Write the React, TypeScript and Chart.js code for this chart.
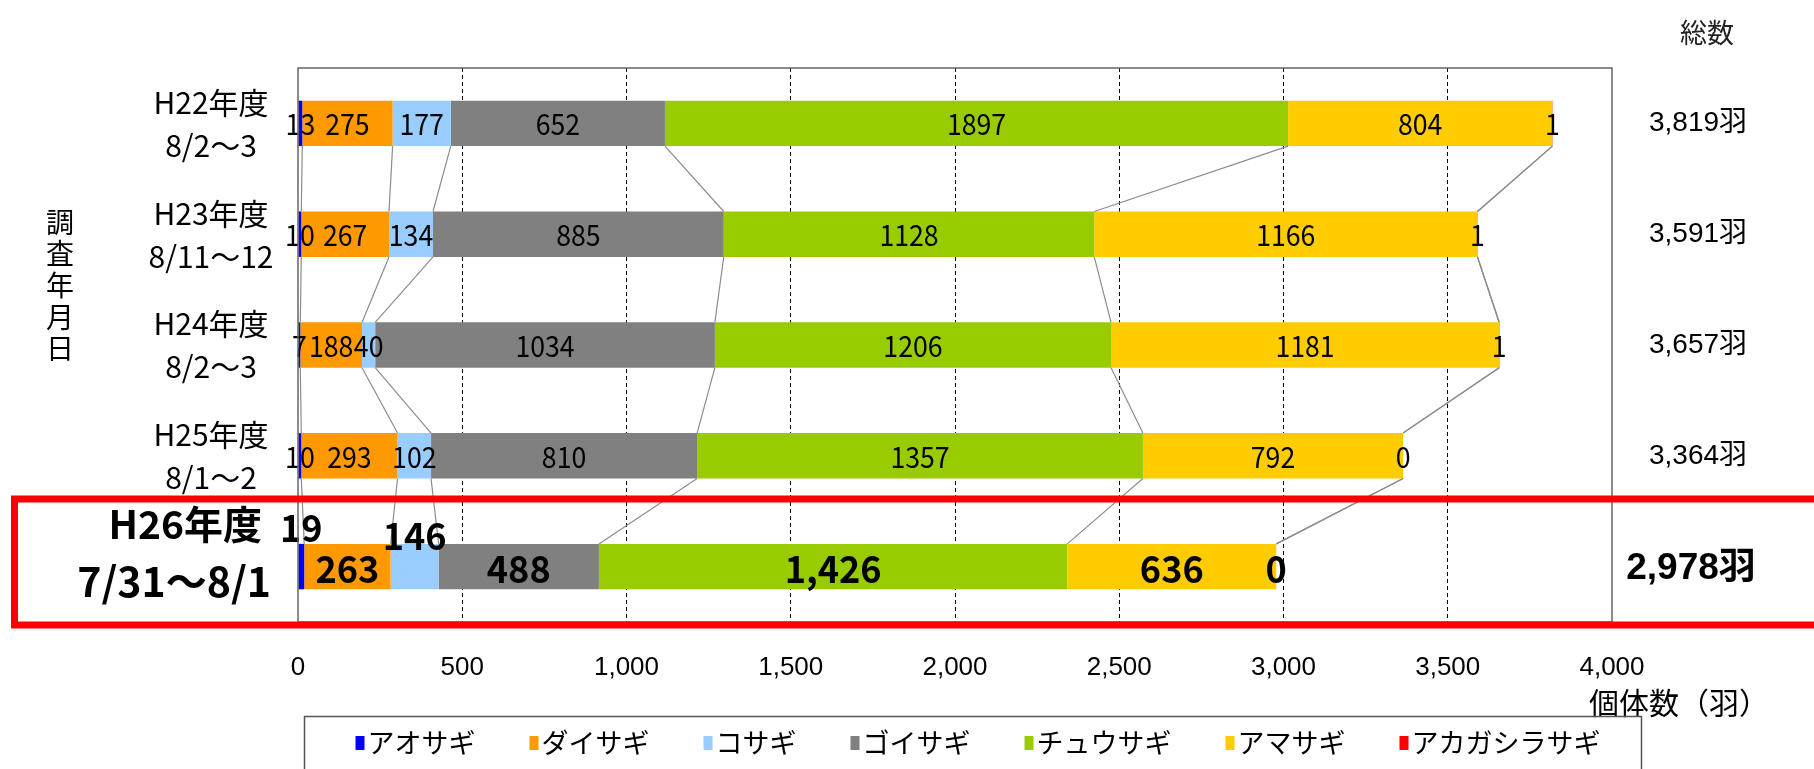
import React, { useEffect, useRef } from 'react';
import { Chart, registerables } from 'chart.js';

Chart.register(...registerables);

// ---- data ----
const categories = ['H22年度', 'H23年度', 'H24年度', 'H25年度', 'H26年度'];
const dateLabels = ['8/2～3', '8/11～12', '8/2～3', '8/1～2', '7/31～8/1'];
const seriesNames = ['アオサギ', 'ダイサギ', 'コサギ', 'ゴイサギ', 'チュウサギ', 'アマサギ', 'アカガシラサギ'];
const seriesColors = ['#0000FF', '#FF9900', '#99CCFF', '#808080', '#99CC00', '#FFCC00', '#FF0000'];
const aosagi = [13, 10, 7, 10, 19];
const daisagi = [275, 267, 188, 293, 263];
const kosagi = [177, 134, 40, 102, 146];
const goisagi = [652, 885, 1034, 810, 488];
const chuusagi = [1897, 1128, 1206, 1357, 1426];
const amasagi = [804, 1166, 1181, 792, 636];
const akagashirasagi = [1, 1, 1, 0, 0];
const seriesValues = [aosagi, daisagi, kosagi, goisagi, chuusagi, amasagi, akagashirasagi];
const totals = ['3,819羽', '3,591羽', '3,657羽', '3,364羽', '2,978羽'];
const xTickLabels = ['0', '500', '1,000', '1,500', '2,000', '2,500', '3,000', '3,500', '4,000'];

const W = 1814;
const H = 769;
const CJK = "'Noto Sans CJK JP', sans-serif";
const SANS = "'Liberation Sans', 'Noto Sans CJK JP', sans-serif";

function condensedText(ctx: CanvasRenderingContext2D, text: string, x: number, y: number, sx: number) {
  ctx.save();
  ctx.translate(x, y);
  ctx.scale(sx, 1);
  ctx.fillText(text, 0, 0);
  ctx.restore();
}

const overlay = {
  id: 'overlay',
  afterDatasetsDraw(chart: any) {
    const ctx = chart.ctx as CanvasRenderingContext2D;
    const metas = seriesNames.map((_, i) => chart.getDatasetMeta(i));
    // series connector lines
    ctx.save();
    ctx.strokeStyle = '#8c8c8c';
    ctx.lineWidth = 1.2;
    for (let s = 0; s < metas.length; s++) {
      const els = metas[s].data;
      for (let c = 0; c < els.length - 1; c++) {
        const a = els[c];
        const b = els[c + 1];
        ctx.beginPath();
        ctx.moveTo(a.x, a.y + a.height / 2);
        ctx.lineTo(b.x, b.y - b.height / 2);
        ctx.stroke();
      }
    }
    ctx.restore();

    // data labels
    ctx.save();
    ctx.fillStyle = '#000';
    ctx.textAlign = 'center';
    ctx.textBaseline = 'middle';
    for (let s = 0; s < metas.length; s++) {
      const els = metas[s].data;
      for (let c = 0; c < els.length; c++) {
        const el = els[c];
        const v = seriesValues[s][c];
        const cx = (el.x + el.base) / 2;
        let cy = el.y;
        if (c === categories.length - 1) {
          ctx.font = `bold 38px ${CJK}`;
          if (s === 0) cy = el.y - 41;
          if (s === 2) cy = el.y - 33;
          condensedText(ctx, v.toLocaleString('en-US'), cx, cy + 2, 0.95);
        } else {
          ctx.font = `29px ${CJK}`;
          condensedText(ctx, String(v), cx, cy + 1, 0.92);
        }
      }
    }
    ctx.restore();
  },
  afterDraw(chart: any) {
    const ctx = chart.ctx as CanvasRenderingContext2D;
    const area = chart.chartArea;
    const yScale = chart.scales.y;

    // plot border
    ctx.save();
    ctx.strokeStyle = '#666';
    ctx.lineWidth = 1.5;
    ctx.strokeRect(area.left, area.top, area.right - area.left, area.bottom - area.top);
    ctx.restore();

    ctx.save();
    ctx.fillStyle = '#000';
    ctx.textBaseline = 'middle';

    // category labels
    for (let i = 0; i < categories.length; i++) {
      const y = yScale.getPixelForTick(i);
      if (i < categories.length - 1) {
        ctx.font = `30px ${CJK}`;
        ctx.textAlign = 'center';
        ctx.fillText(categories[i], 211, y - 21);
        ctx.fillText(dateLabels[i], 211, y + 22);
      } else {
        ctx.font = `bold 39px ${CJK}`;
        ctx.textAlign = 'right';
        ctx.fillText(categories[i], 262, y - 42);
        ctx.font = `bold 41px ${CJK}`;
        ctx.fillText(dateLabels[i], 271, y + 15);
      }
    }

    // totals
    for (let i = 0; i < totals.length; i++) {
      const y = yScale.getPixelForTick(i);
      ctx.textAlign = 'center';
      if (i < totals.length - 1) {
        ctx.font = `28px ${SANS}`;
        ctx.fillText(totals[i], 1698, y);
      } else {
        ctx.font = `bold 37px ${SANS}`;
        ctx.fillText(totals[i], 1691, y + 2);
      }
    }

    // header
    ctx.font = `27px ${CJK}`;
    ctx.fillStyle = '#222';
    ctx.textAlign = 'center';
    ctx.fillText('総数', 1707, 33);

    // x-axis title
    ctx.fillStyle = '#000';
    ctx.textAlign = 'left';
    ctx.font = `30px ${CJK}`;
    ctx.fillText('個体数（羽）', 1589, 703);

    // y-axis title (vertical)
    ctx.textAlign = 'center';
    ctx.font = `28px ${CJK}`;
    const yTitle = '調査年月日';
    for (let k = 0; k < yTitle.length; k++) {
      ctx.fillText(yTitle[k], 60, 222 + k * 31.7);
    }
    ctx.restore();

    // red highlight box
    ctx.save();
    ctx.strokeStyle = '#FF0000';
    ctx.lineWidth = 7;
    ctx.strokeRect(14.5, 499, 1840, 126);
    ctx.restore();

    // legend
    ctx.save();
    ctx.strokeStyle = '#555';
    ctx.lineWidth = 1.5;
    ctx.strokeRect(304.5, 716.5, 1337, 90);
    ctx.font = `27px ${CJK}`;
    ctx.textBaseline = 'middle';
    ctx.textAlign = 'left';
    const gap = 54;
    const widths = seriesNames.map((n) => 12 + ctx.measureText(n).width);
    const total = widths.reduce((a, b) => a + b, 0) + gap * (widths.length - 1);
    let x = 978 - total / 2;
    const ly = 743;
    for (let i = 0; i < seriesNames.length; i++) {
      ctx.fillStyle = seriesColors[i];
      ctx.fillRect(x, ly - 7, 9, 14);
      ctx.fillStyle = '#000';
      ctx.fillText(seriesNames[i], x + 12, ly);
      x += widths[i] + gap;
    }
    ctx.restore();
  },
};

export default function App() {
  const ref = useRef<HTMLCanvasElement | null>(null);
  useEffect(() => {
    if (!ref.current) return;
    const chart = new Chart(ref.current, {
      type: 'bar',
      data: {
        labels: categories,
        datasets: seriesNames.map((name, i) => ({
          label: name,
          data: seriesValues[i],
          backgroundColor: seriesColors[i],
          borderWidth: 0,
          barPercentage: 0.41,
          categoryPercentage: 1,
        })),
      },
      options: {
        animation: false,
        responsive: false,
        indexAxis: 'y',
        layout: { padding: { left: 0, right: W - 1612, top: 68, bottom: 0 } },
        plugins: { legend: { display: false }, tooltip: { enabled: false } },
        scales: {
          x: {
            stacked: true,
            min: 0,
            max: 4000,
            afterFit: (s: any) => {
              s.height = H - 622;
            },
            ticks: {
              stepSize: 500,
              autoSkip: false,
              maxRotation: 0,
              padding: 30,
              color: '#000',
              font: { family: SANS, size: 26 },
              callback: (_v: any, i: number) => xTickLabels[i],
            },
            grid: {
              color: (c: any) =>
                c.tick && (c.tick.value === 0 || c.tick.value === 4000) ? 'rgba(0,0,0,0)' : '#000',
              lineWidth: 1,
              drawTicks: false,
            },
            border: { display: false, dash: [4, 3] },
          },
          y: {
            stacked: true,
            afterFit: (s: any) => {
              s.width = 298;
            },
            ticks: { display: false },
            grid: { display: false },
            border: { display: false },
          },
        },
      },
      plugins: [overlay],
    } as any);
    return () => chart.destroy();
  }, []);
  return (
    <div style={{ position: 'absolute', left: 0, top: 0, width: W, height: H, background: '#fff' }}>
      <canvas ref={ref} width={W} height={H} style={{ display: 'block' }} />
    </div>
  );
}
